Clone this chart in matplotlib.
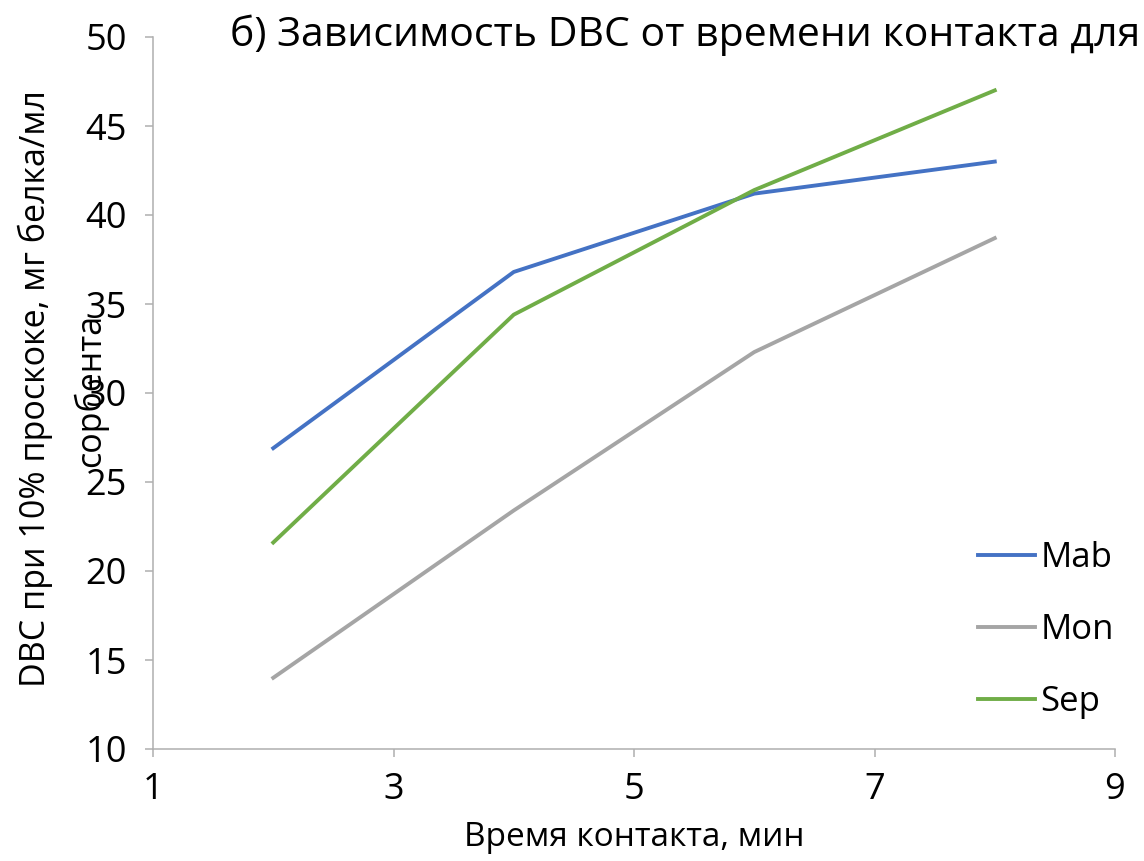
import matplotlib
matplotlib.use("Agg")
import matplotlib.pyplot as plt

plt.rcParams['font.family'] = ['Open Sans', 'DejaVu Sans']

time_min = [2, 4, 6, 8]
mab = [26.9, 36.8, 41.2, 43.0]
mon = [14.0, 23.4, 32.3, 38.7]
sep = [21.6, 34.4, 41.4, 47.0]
x_ticks = [1, 3, 5, 7, 9]
y_ticks = [10, 15, 20, 25, 30, 35, 40, 45, 50]

fig = plt.figure(figsize=(11.44, 8.61), dpi=100)
ax = fig.add_axes([153 / 1144, 1 - 749 / 861, (1115 - 153) / 1144, (749 - 37) / 861])

ax.plot(time_min, mab, color='#4472C4', lw=2.8, label='Mab')
ax.plot(time_min, mon, color='#A5A5A5', lw=2.8, label='Mon')
ax.plot(time_min, sep, color='#70AD47', lw=2.8, label='Sep')

ax.set_xlim(1, 9)
ax.set_ylim(10, 50)
ax.set_xticks(x_ticks)
ax.set_yticks(y_ticks)
for s in ['top', 'right']:
    ax.spines[s].set_visible(False)
for s in ['left', 'bottom']:
    ax.spines[s].set_color('#AFAFAF')
    ax.spines[s].set_linewidth(1.1)
ax.tick_params(colors='#AFAFAF', labelcolor='black', length=5.8, width=1.1,
               labelsize=26)
ax.tick_params(axis='x', pad=11)
ax.tick_params(axis='y', pad=13)

fig.text(230 / 1144, 1 - 35 / 861, 'б) Зависимость DBC от времени контакта для',
         fontsize=29.5, ha='left', va='center')
fig.text(634 / 1144, 1 - 838 / 861, 'Время контакта, мин', fontsize=24,
         ha='center', va='center')
fig.text(35 / 1144, 1 - 389 / 861, 'DBC при 10% проскоке, мг белка/мл',
         fontsize=24.5, rotation=90, ha='center', va='center')
fig.text(90 / 1144, 1 - 390 / 861, 'сорбента',
         fontsize=24.5, rotation=90, ha='center', va='center')

ax.legend(loc='center left', bbox_to_anchor=(978 / 1144, 1 - 630 / 861),
          bbox_transform=fig.transFigure, frameon=False, fontsize=25,
          handlelength=1.65, handletextpad=0.15, labelspacing=1.1,
          borderaxespad=0, borderpad=0)

fig.savefig('out.png', dpi=100)
